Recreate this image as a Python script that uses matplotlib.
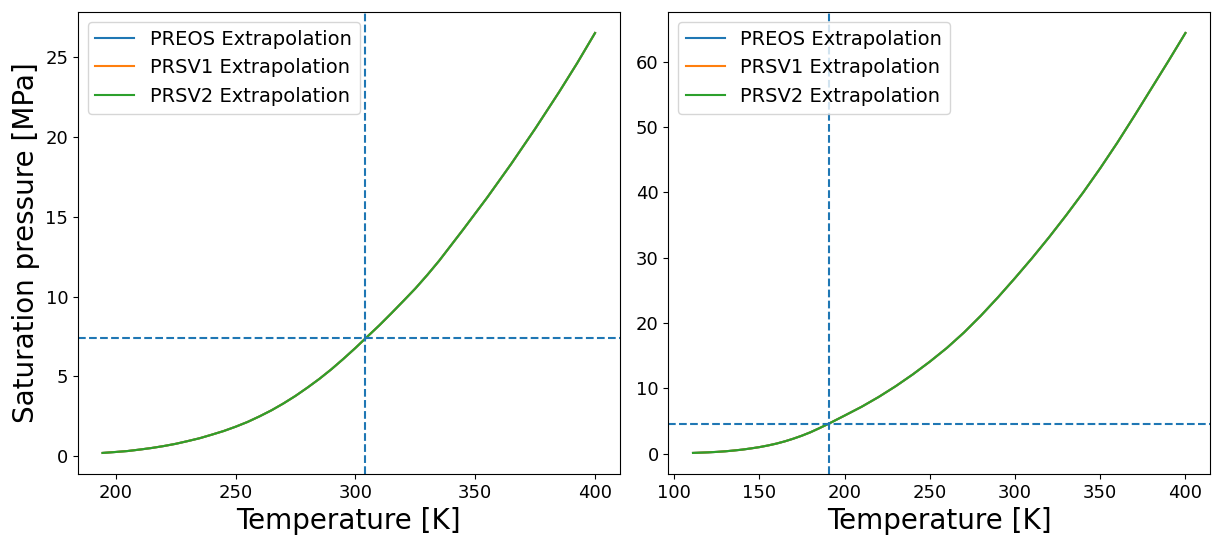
import matplotlib
matplotlib.use("Agg")
import matplotlib.pyplot as plt

# CO2 (left panel)
co2_T = [194.5, 200, 205, 210, 215, 220, 225, 230, 235, 240, 245, 250, 255, 260, 265,
         270, 275, 280, 285, 290, 295, 300, 304.2, 310, 315, 320, 325, 330, 335, 345,
         355, 365, 375, 385, 392.5, 400]
co2_preos = [0.21, 0.27, 0.33, 0.42, 0.52, 0.64, 0.78, 0.95, 1.13, 1.35, 1.58, 1.85,
             2.15, 2.5, 2.88, 3.31, 3.78, 4.3, 4.85, 5.45, 6.1, 6.78, 7.38, 8.2, 8.95,
             9.72, 10.5, 11.35, 12.25, 14.2, 16.2, 18.3, 20.5, 22.8, 24.6, 26.5]
co2_prsv1 = list(co2_preos)
co2_prsv2 = list(co2_preos)
co2_Tc = 304.13
co2_Pc = 7.377

# Methane (right panel)
ch4_T = [111, 115, 120, 125, 130, 135, 140, 145, 150, 155, 160, 165, 170, 175, 180,
         185, 190.6, 200, 210, 220, 230, 240, 250, 260, 270, 280, 290, 300, 310, 320,
         330, 340, 350, 360, 370, 380, 390, 400]
ch4_preos = [0.13, 0.17, 0.22, 0.29, 0.38, 0.5, 0.64, 0.82, 1.02, 1.27, 1.56, 1.91,
             2.32, 2.78, 3.3, 3.9, 4.6, 5.85, 7.2, 8.7, 10.35, 12.15, 14.1, 16.2,
             18.55, 21.15, 23.95, 26.9, 29.95, 33.15, 36.5, 40.0, 43.7, 47.6, 51.7,
             55.9, 60.1, 64.4]
ch4_prsv1 = list(ch4_preos)
ch4_prsv2 = list(ch4_preos)
ch4_Tc = 190.56
ch4_Pc = 4.599

labels = ["PREOS Extrapolation", "PRSV1 Extrapolation", "PRSV2 Extrapolation"]

fig, axes = plt.subplots(1, 2, figsize=(12.24, 5.46), dpi=100)
fig.subplots_adjust(left=0.0637, right=0.9886, bottom=0.132, top=0.978, wspace=0.09)

panels = [
    (axes[0], co2_T, [co2_preos, co2_prsv1, co2_prsv2], co2_Tc, co2_Pc),
    (axes[1], ch4_T, [ch4_preos, ch4_prsv1, ch4_prsv2], ch4_Tc, ch4_Pc),
]
for ax, T, series, Tc, Pc in panels:
    for s, lab in zip(series, labels):
        ax.plot(T, s, label=lab, lw=1.5)
    ax.axvline(Tc, ls="--", color="C0", lw=1.5)
    ax.axhline(Pc, ls="--", color="C0", lw=1.5)
    ax.set_xlabel("Temperature [K]", fontsize=20)
    ax.tick_params(labelsize=13)
    ax.legend(loc="upper left", fontsize=14)

axes[0].set_ylabel("Saturation pressure [MPa]", fontsize=20)

fig.savefig("out.png", dpi=100)
